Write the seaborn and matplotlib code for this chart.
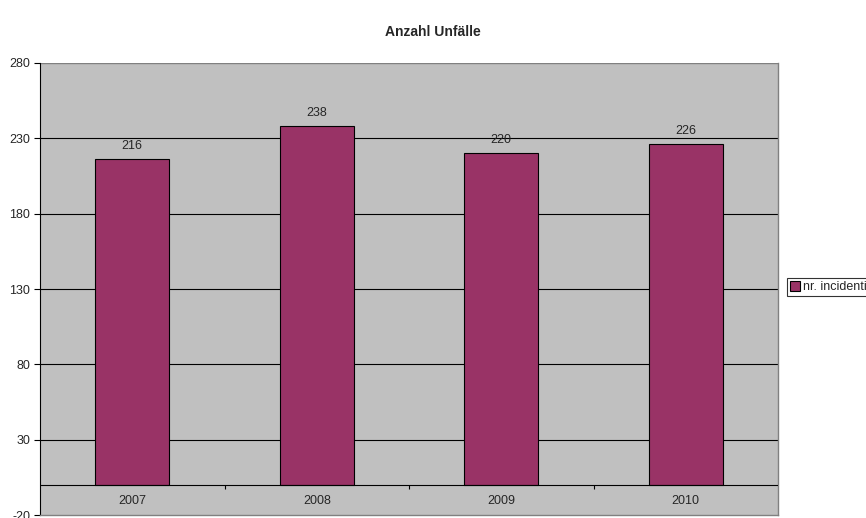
import matplotlib
matplotlib.use('Agg')
import matplotlib.pyplot as plt
import seaborn as sns
import pandas as pd

years = ['2007', '2008', '2009', '2010']
incidenti = [216, 238, 220, 226]
series_name = 'nr. incidenti'
yticks = [-20, 30, 80, 130, 180, 230, 280]

sns.set_style('white')
plt.rcParams['font.family'] = ['Liberation Sans', 'DejaVu Sans']

df = pd.DataFrame({'anno': years, 'valore': incidenti})

fig = plt.figure(figsize=(8.66, 5.18), dpi=100)
ax = fig.add_axes([40/866, 3/518, 738/866, 452/518])
ax.set_facecolor('#c0c0c0')

sns.barplot(data=df, x='anno', y='valore', color='#993366', saturation=1,
            width=0.4, edgecolor='black', linewidth=0.8, ax=ax, zorder=3,
            label=series_name)

ax.set_ylim(-20, 280)
ax.set_xlim(-0.5, 3.5)
ax.set_yticks(yticks)
ax.set_yticklabels([str(t) for t in yticks], fontsize=9)
ax.tick_params(axis='y', length=4, width=0.8, color='black', pad=3, left=True)
ax.set_xticks([])
ax.set_xlabel('')
ax.set_ylabel('')

# gridlines and the category axis at 0
for t in yticks[1:-1]:
    ax.axhline(t, color='black', lw=0.8, zorder=1)
ax.axhline(280, color='#808080', lw=1, zorder=1)
ax.axhline(0, color='black', lw=0.8, zorder=4)
ax.vlines([0.5, 1.5, 2.5], -3, 0, color='black', lw=0.8, zorder=4)

for i, y in enumerate(years):
    ax.text(i, -11, y, ha='center', va='center', fontsize=9)

for i, v in enumerate(incidenti):
    ax.text(i, v + 5, str(v), ha='center', va='bottom', fontsize=9)

for s in ['right', 'bottom']:
    ax.spines[s].set_color('#808080')
    ax.spines[s].set_linewidth(1)
ax.spines['top'].set_visible(False)
ax.spines['left'].set_color('black')
ax.spines['left'].set_linewidth(0.8)

fig.text(0.5, 1 - 32/518, 'Anzahl Unfälle', ha='center', va='center',
         fontsize=10, fontweight='bold')

h, l = ax.get_legend_handles_labels()
if ax.get_legend() is not None:
    ax.get_legend().remove()
leg = fig.legend(h, l, loc='center left', bbox_to_anchor=(787/866, 1 - 287/518),
                 fontsize=9, frameon=True, fancybox=False, handlelength=0.8,
                 handleheight=0.8, handletextpad=0.3, borderpad=0.2,
                 borderaxespad=0)
leg.get_frame().set_edgecolor('black')
leg.get_frame().set_linewidth(0.8)

fig.savefig('out.png', dpi=100)
